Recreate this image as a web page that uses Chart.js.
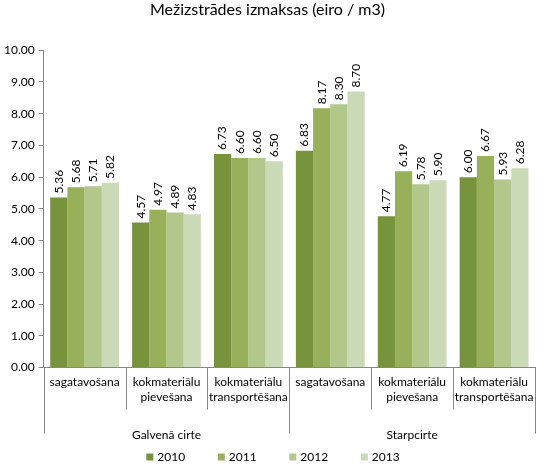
<!DOCTYPE html>
<html>
<head>
<meta charset="utf-8">
<script src="https://cdn.jsdelivr.net/npm/chart.js@4/dist/chart.umd.min.js"></script>
<style>
  html, body { margin: 0; padding: 0; background: #fff; }
  #wrap { width: 548px; height: 468px; }
</style>
</head>
<body>
<div id="wrap"><canvas id="chart" width="548" height="468"></canvas></div>
<script>
// ===== Data =====
const categories = [
  ['sagatavošana'],
  ['kokmateriālu', 'pievešana'],
  ['kokmateriālu', 'transportēšana'],
  ['sagatavošana'],
  ['kokmateriālu', 'pievešana'],
  ['kokmateriālu', 'transportēšana']
];
const groups = ['Galvenā cirte', 'Starpcirte'];
const years = ['2010', '2011', '2012', '2013'];

const values2010 = [5.36, 4.57, 6.73, 6.83, 4.77, 6.00];
const values2011 = [5.68, 4.97, 6.60, 8.17, 6.19, 6.67];
const values2012 = [5.71, 4.89, 6.60, 8.30, 5.78, 5.93];
const values2013 = [5.82, 4.83, 6.50, 8.70, 5.90, 6.28];

const yTicks = [0, 1, 2, 3, 4, 5, 6, 7, 8, 9, 10];

const colors = ['#77933C', '#98B05A', '#B2C78C', '#CAD9B6'];
const FONT = 'Lato, "Open Sans", "DejaVu Sans", sans-serif';
const AXIS = '#868686';

// Rotated value labels above each bar
const barLabels = {
  id: 'barLabels',
  afterDatasetsDraw(chart) {
    const ctx = chart.ctx;
    ctx.save();
    ctx.font = '12px ' + FONT;
    ctx.fillStyle = '#000';
    ctx.textAlign = 'left';
    ctx.textBaseline = 'middle';
    chart.data.datasets.forEach((ds, i) => {
      chart.getDatasetMeta(i).data.forEach((bar, j) => {
        ctx.save();
        ctx.translate(bar.x, bar.y - 4);
        ctx.rotate(-Math.PI / 2);
        ctx.fillText(ds.data[j].toFixed(2), 0, 0);
        ctx.restore();
      });
    });
    ctx.restore();
  }
};

// Category / group separator lines through the label rows
const separators = {
  id: 'separators',
  afterDraw(chart) {
    const x = chart.scales.x, g = chart.scales.groups;
    const ctx = chart.ctx;
    const line = (px, y0, y1) => {
      const p = Math.round(px) + 0.5;
      ctx.beginPath(); ctx.moveTo(p, y0); ctx.lineTo(p, y1); ctx.stroke();
    };
    ctx.save();
    ctx.strokeStyle = AXIS;
    ctx.lineWidth = 1;
    const n = categories.length;
    for (let i = 1; i < n; i++) {
      if (i === 3) continue;
      line((x.getPixelForTick(i - 1) + x.getPixelForTick(i)) / 2, x.top, x.top + 42);
    }
    const half = (g.getPixelForTick(1) - g.getPixelForTick(0)) / 2;
    [g.getPixelForTick(0) - half, g.getPixelForTick(0) + half, g.getPixelForTick(1) + half]
      .forEach(px => line(px, x.top, x.top + 66));
    ctx.restore();
  }
};

// Legend row under the group labels
const bottomLegend = {
  id: 'bottomLegend',
  afterDraw(chart) {
    const ctx = chart.ctx;
    const ds = chart.data.datasets;
    const step = 71.5, box = 7;
    const cx = (chart.chartArea.left + chart.chartArea.right) / 2;
    const y = chart.height - 11;
    let x0 = cx - step * ds.length / 2;
    ctx.save();
    ctx.font = '12px ' + FONT;
    ctx.textBaseline = 'middle';
    ctx.textAlign = 'left';
    ds.forEach((d, i) => {
      const x = x0 + i * step;
      ctx.fillStyle = d.backgroundColor;
      ctx.fillRect(x, y - box / 2, box, box);
      ctx.fillStyle = '#000';
      ctx.fillText(d.label, x + box + 4, y);
    });
    ctx.restore();
  }
};

const seriesValues = [values2010, values2011, values2012, values2013];

new Chart(document.getElementById('chart').getContext('2d'), {
  type: 'bar',
  data: {
    labels: categories,
    datasets: years.map((y, i) => ({
      label: y,
      data: seriesValues[i],
      backgroundColor: colors[i],
      borderWidth: 0,
      categoryPercentage: 0.84,
      barPercentage: 1.0
    }))
  },
  options: {
    responsive: false,
    devicePixelRatio: 1,
    animation: false,
    layout: { padding: { left: 0, right: 13, top: 0, bottom: 10 } },
    plugins: {
      title: {
        display: true,
        text: 'Mežizstrādes izmaksas (eiro / m3)',
        color: '#000',
        font: { family: FONT, size: 16, weight: 'normal' },
        padding: { top: 0, bottom: 31 }
      },
      legend: { display: false },
      tooltip: { enabled: false }
    },
    scales: {
      y: {
        min: 0,
        max: 10,
        afterBuildTicks: s => { s.ticks = yTicks.map(v => ({ value: v })); },
        ticks: {
          color: '#000',
          font: { family: FONT, size: 12 },
          padding: 4,
          callback: v => Number(v).toFixed(2)
        },
        grid: { display: true, drawOnChartArea: false, drawTicks: true, tickLength: 5, color: AXIS },
        border: { display: true, color: AXIS }
      },
      x: {
        position: 'bottom',
        offset: true,
        ticks: {
          color: '#000',
          font: { family: FONT, size: 12, lineHeight: 1.25 },
          padding: 7,
          maxRotation: 0,
          autoSkip: false
        },
        grid: { display: false, drawTicks: false },
        border: { display: true, color: AXIS }
      },
      groups: {
        type: 'category',
        labels: groups,
        position: 'bottom',
        offset: true,
        ticks: {
          color: '#000',
          font: { family: FONT, size: 12 },
          padding: 16,
          maxRotation: 0,
          autoSkip: false
        },
        grid: { display: false, drawTicks: false },
        border: { display: false }
      }
    }
  },
  plugins: [barLabels, separators, bottomLegend]
});
</script>
</body>
</html>
